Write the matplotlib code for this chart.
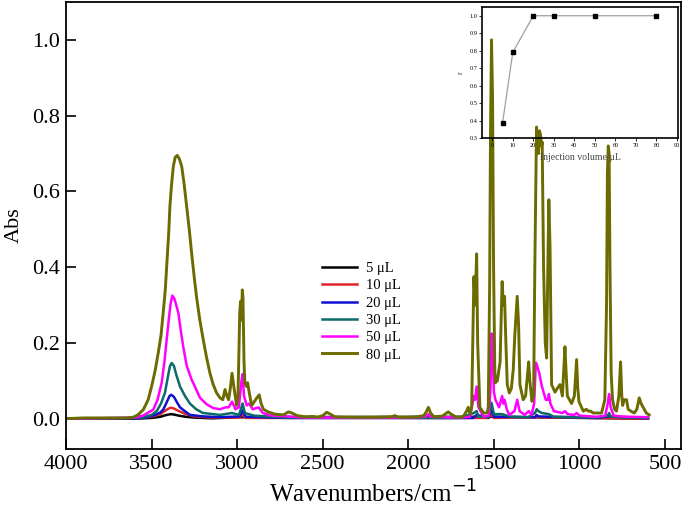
import matplotlib
matplotlib.use("Agg")
import matplotlib.pyplot as plt
from matplotlib.ticker import FixedLocator, FormatStrFormatter

plt.rcParams['font.family'] = ['Liberation Serif', 'DejaVu Serif']

# ---- data (wavenumber, absorbance) ----
wn_80 = [4000, 3900, 3800, 3700, 3640, 3607, 3580, 3548, 3520, 3500, 3480, 3461, 3445, 3432, 3420,
         3412, 3400, 3393, 3383, 3373, 3362, 3350, 3337, 3324, 3310, 3295, 3280, 3266, 3250, 3237,
         3218, 3198, 3178, 3159, 3140, 3120, 3100, 3084,
         3071, 3060, 3050, 3040, 3030, 3018, 3003, 2995, 2985, 2980, 2975, 2970, 2966, 2960, 2955,
         2945, 2939, 2930, 2915, 2900, 2885, 2871, 2860, 2847, 2820, 2780, 2730, 2700, 2680, 2650,
         2600, 2560, 2530, 2500, 2477, 2455, 2430, 2350, 2200, 2100, 2078, 2060, 2000, 1950, 1910,
         1895, 1883, 1870, 1850, 1800, 1780, 1767, 1750, 1720, 1680, 1660, 1650, 1640, 1630, 1617,
         1610, 1601, 1595, 1582, 1560, 1540, 1533, 1525, 1520, 1514, 1508, 1502, 1495, 1491, 1480,
         1464, 1452, 1445, 1438, 1430, 1422, 1410, 1398, 1387, 1378, 1364, 1356, 1348, 1329, 1315,
         1305, 1297, 1290, 1278, 1268, 1261, 1251, 1245, 1240, 1234, 1228, 1222, 1218, 1210, 1200,
         1192, 1185, 1179, 1172, 1163, 1143, 1130, 1114, 1100, 1085, 1078, 1071, 1046, 1030, 1017,
         1010, 1003, 978, 960, 949, 935, 920, 895, 871, 852, 842, 837, 832, 827, 822, 815, 807, 795,
         784, 770, 760, 753, 748, 739, 725, 716, 700, 680, 665, 651, 640, 628, 610, 593]
abs_80 = [0.0, 0.002, 0.002, 0.002, 0.002, 0.004, 0.01, 0.024, 0.05, 0.085, 0.125, 0.174, 0.22, 0.28, 0.34,
          0.40, 0.49, 0.56, 0.62, 0.666, 0.69, 0.695, 0.685, 0.666, 0.62, 0.56, 0.50, 0.437, 0.37, 0.32,
          0.26, 0.208, 0.16, 0.12, 0.09, 0.068, 0.055, 0.05,
          0.077, 0.06, 0.05, 0.08, 0.12, 0.08, 0.035, 0.06, 0.28, 0.31, 0.26, 0.34, 0.32, 0.15, 0.095,
          0.085, 0.095, 0.07, 0.035, 0.045, 0.055, 0.063, 0.04, 0.025, 0.018, 0.012, 0.01, 0.018, 0.015, 0.008,
          0.005, 0.006, 0.004, 0.008, 0.017, 0.012, 0.005, 0.004, 0.004, 0.005, 0.008, 0.004, 0.004, 0.005, 0.008,
          0.018, 0.03, 0.015, 0.005, 0.007, 0.014, 0.018, 0.012, 0.004, 0.005, 0.02, 0.03, 0.012, 0.03, 0.375,
          0.30, 0.435, 0.2, 0.03, 0.015, 0.015, 0.03, 0.35, 0.75, 1.0, 0.85, 0.4, 0.13, 0.095, 0.1,
          0.15, 0.362, 0.3, 0.323, 0.2, 0.09, 0.068, 0.08, 0.13, 0.22, 0.323, 0.25, 0.09, 0.05, 0.06,
          0.11, 0.15, 0.1, 0.046, 0.06, 0.4, 0.77, 0.74, 0.70, 0.76, 0.75, 0.72, 0.73, 0.4, 0.2,
          0.16, 0.4, 0.578, 0.45, 0.09, 0.07, 0.08, 0.09, 0.06, 0.19, 0.12, 0.06, 0.04, 0.06, 0.156,
          0.08, 0.045, 0.02, 0.025, 0.02, 0.02, 0.015, 0.015, 0.015, 0.05, 0.3, 0.65, 0.72, 0.70, 0.4, 0.12, 0.05, 0.025,
          0.02, 0.06, 0.15, 0.06, 0.035, 0.05, 0.05, 0.025, 0.02, 0.015, 0.025, 0.055, 0.04, 0.03, 0.015, 0.01]

wn_50 = [4000, 3700, 3600, 3550, 3490, 3465, 3441, 3425, 3412, 3400, 3390, 3379, 3368, 3356, 3344,
         3330, 3315, 3295, 3266, 3237, 3217, 3178, 3140, 3100, 3067, 3050, 3030, 3010, 2990, 2975,
         2968, 2960, 2944, 2930, 2910, 2875, 2850, 2800, 2700, 2600, 2000, 1900, 1883, 1870, 1700,
         1640, 1617, 1610, 1601, 1590, 1560, 1530, 1520, 1514, 1508, 1500, 1491, 1470, 1452, 1445,
         1438, 1425, 1410, 1380, 1364, 1350, 1320, 1297, 1280, 1265, 1255, 1248, 1235, 1222, 1210,
         1197, 1185, 1179, 1170, 1150, 1100, 1085, 1070, 1030, 1017, 1000, 900, 850, 835, 827, 818,
         800, 760, 700, 600]
abs_50 = [0.0, 0.002, 0.003, 0.008, 0.024, 0.05, 0.095, 0.15, 0.208, 0.26, 0.30, 0.325, 0.318, 0.30, 0.28,
          0.235, 0.19, 0.14, 0.103, 0.075, 0.055, 0.038, 0.028, 0.025, 0.03, 0.03, 0.045, 0.025, 0.03, 0.1,
          0.118, 0.06, 0.035, 0.04, 0.025, 0.03, 0.015, 0.008, 0.006, 0.003, 0.003, 0.005, 0.012, 0.005, 0.003,
          0.005, 0.06, 0.05, 0.085, 0.03, 0.005, 0.008, 0.08, 0.225, 0.18, 0.07, 0.05, 0.03, 0.06, 0.04,
          0.05, 0.025, 0.01, 0.02, 0.05, 0.02, 0.01, 0.02, 0.01, 0.04, 0.148, 0.14, 0.12, 0.09, 0.07,
          0.05, 0.05, 0.065, 0.04, 0.02, 0.015, 0.02, 0.012, 0.01, 0.015, 0.008, 0.005, 0.008, 0.04, 0.065, 0.03,
          0.008, 0.006, 0.005, 0.004]

wn_30 = [4000, 3600, 3550, 3500, 3470, 3445, 3422, 3405, 3393, 3383, 3370, 3355, 3334, 3305, 3276,
         3240, 3200, 3100, 3030, 2990, 2975, 2968, 2955, 2900, 2700, 1700, 1617, 1601, 1590, 1530,
         1514, 1500, 1452, 1400, 1300, 1260, 1250, 1240, 1220, 1179, 1150, 900, 835, 827, 818, 600]
abs_30 = [0.0, 0.002, 0.004, 0.01, 0.02, 0.04, 0.068, 0.11, 0.138, 0.147, 0.14, 0.115, 0.085, 0.06, 0.04,
          0.025, 0.015, 0.01, 0.015, 0.01, 0.03, 0.04, 0.015, 0.008, 0.003, 0.002, 0.015, 0.02, 0.005, 0.005,
          0.042, 0.012, 0.012, 0.005, 0.004, 0.015, 0.025, 0.02, 0.015, 0.012, 0.005, 0.003, 0.008, 0.015, 0.005, 0.002]

wn_20 = [4000, 3600, 3530, 3480, 3450, 3432, 3410, 3395, 3385, 3370, 3350, 3334, 3300, 3276, 3200,
         3100, 2985, 2968, 2950, 2700, 1620, 1601, 1530, 1514, 1500, 1260, 1250, 1240, 900, 827, 600]
abs_20 = [0.0, 0.001, 0.003, 0.01, 0.016, 0.024, 0.045, 0.06, 0.063, 0.058, 0.042, 0.03, 0.018, 0.01, 0.006,
          0.004, 0.006, 0.022, 0.005, 0.002, 0.002, 0.01, 0.003, 0.025, 0.005, 0.004, 0.01, 0.006, 0.002, 0.006, 0.001]

wn_10 = [4000, 3600, 3500, 3450, 3420, 3400, 3387, 3370, 3340, 3300, 3250, 3150, 2990, 2968, 2950,
         1530, 1514, 1500, 1250, 600]
abs_10 = [0.0, 0.001, 0.005, 0.012, 0.021, 0.027, 0.029, 0.027, 0.02, 0.012, 0.006, 0.003, 0.003, 0.01, 0.002,
          0.002, 0.01, 0.002, 0.004, 0.0]

wn_5 = [4000, 3600, 3500, 3450, 3420, 3400, 3387, 3370, 3340, 3300, 3250, 3150, 2968, 1514, 600]
abs_5 = [0.0, 0.0, 0.002, 0.005, 0.009, 0.011, 0.012, 0.011, 0.008, 0.005, 0.003, 0.001, 0.004, 0.005, 0.0]

labels = ['5 μL', '10 μL', '20 μL', '30 μL', '50 μL', '80 μL']
colors = ['#000000', '#e0262b', '#1010d0', '#0b6b6b', '#ff00ff', '#6b6b00']

# inset data
inj_volume = [5, 10, 20, 30, 50, 80]
r_values = [0.385, 0.79, 1.0, 1.0, 1.0, 1.0]

# ---- figure ----
fig = plt.figure(figsize=(6.85, 5.11), dpi=100)
ax = fig.add_axes([66/685, 1-449/511, (681-66)/685, (449-2)/511])

series = [(wn_5, abs_5), (wn_10, abs_10), (wn_20, abs_20), (wn_30, abs_30), (wn_50, abs_50), (wn_80, abs_80)]
for (x, y), lab, c in zip(series, labels, colors):
    lw = 2.1 if c == '#6b6b00' else 1.8
    ax.plot(x, y, color=c, lw=lw, label=lab)

ax.set_xlim(4000, 407)
ax.set_ylim(-0.08, 1.10)
ax.xaxis.set_major_locator(FixedLocator([4000, 3500, 3000, 2500, 2000, 1500, 1000, 500]))
ax.yaxis.set_major_locator(FixedLocator([0.0, 0.2, 0.4, 0.6, 0.8, 1.0]))
ax.yaxis.set_major_formatter(FormatStrFormatter('%.1f'))
ax.tick_params(direction='in', length=7, width=1.2, labelsize=16, top=False, right=False, pad=4)
for s in ax.spines.values():
    s.set_linewidth(1.3)
ax.set_xlabel('Wavenumbers/cm$^{-1}$', fontsize=18, labelpad=5)
ax.set_ylabel('Abs', fontsize=16, labelpad=6)

leg = ax.legend(loc='upper left', bbox_to_anchor=(316/685, 1-256/511),
                bbox_transform=fig.transFigure, frameon=False, fontsize=10.5,
                handlelength=2.4, handletextpad=0.6, labelspacing=0.28, borderaxespad=0)

# ---- inset ----
ins = fig.add_axes([482/685, 1-138/511, 196/685, 131/511])
ins.patch.set_alpha(0.0)
ins.plot(inj_volume, r_values, color='#a0a0a0', lw=0.9, marker='s', markersize=3.2,
         markerfacecolor='black', markeredgecolor='black')
ins.set_xlim(-5, 90.5)
ins.set_ylim(0.3, 1.05)
ins.xaxis.set_major_locator(FixedLocator(list(range(0, 91, 10))))
ins.yaxis.set_major_locator(FixedLocator([0.3, 0.4, 0.5, 0.6, 0.7, 0.8, 0.9, 1.0]))
ins.yaxis.set_major_formatter(FormatStrFormatter('%.1f'))
ins.tick_params(direction='out', length=2, width=0.6, labelsize=4.5, pad=1.5)
for s in ins.spines.values():
    s.set_linewidth(1.2)
ins.set_xlabel('Injection volume/μL', fontsize=7, color='#444444', labelpad=4)
ins.set_ylabel('r', fontsize=6, color='#444444', labelpad=3)

fig.savefig('out.png', dpi=100)
